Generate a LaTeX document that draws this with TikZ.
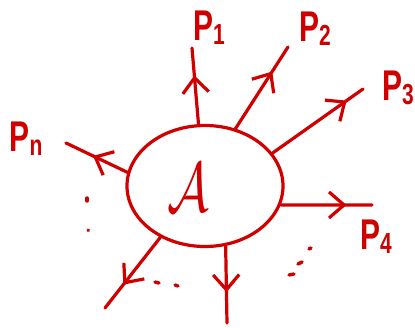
\documentclass[tikz,border=0pt]{standalone}
\usepackage{fontspec}
\usepackage{graphicx}
\setsansfont{Liberation Sans}
\usetikzlibrary{shapes.geometric,arrows.meta,decorations.markings}
\definecolor{ink}{RGB}{208,0,0}
\newcommand\plbl[1]{\sffamily\bfseries\scalebox{3}[4.3]{P}\raisebox{-4pt}{\scalebox{2.1}[2.9]{#1}}}
\tikzset{
  stroke/.style={draw=ink, line width=3.2pt, line cap=round},
  midarrow/.style={postaction={decorate}, decoration={markings,
     mark=at position #1 with {\arrow[ink, line width=3.2pt, line cap=round]{Straight Barb[length=15pt,width=26pt]}}}},
  plabel/.style={text=ink, inner sep=0pt},
  dotmark/.style={draw=ink, line width=3.4pt, line cap=round},
}
\begin{document}
\begin{tikzpicture}[x=1pt,y=-1pt]
\useasboundingbox (0,0) rectangle (415,327);
\node[ellipse, draw=ink, line width=3.2pt, minimum width=156pt, minimum height=121pt, inner sep=0pt] (A) at (205,186) {};
\node[text=ink, inner sep=0pt] (Aname) at (188,188) {\scalebox{5.2}[7]{$\mathcal{A}$}};
% free ends
\coordinate (e1) at (192,48);
\coordinate (e2) at (288,47);
\coordinate (e3) at (363,89);
\coordinate (e4) at (372,205);
\coordinate (en) at (66,143);
\coordinate (ebl) at (105,308);
\coordinate (eb) at (227,323);
% labels
\node[plabel] (P1) at (209,28) {\plbl{1}};
\node[plabel] (P2) at (315,29) {\plbl{2}};
\node[plabel] (P3) at (398,88) {\plbl{3}};
\node[plabel] (P4) at (376,237) {\plbl{4}};
\node[plabel] (Pn) at (26,139) {\plbl{n}};
% connectors
\draw[stroke, midarrow=0.64] (A.96) -- (e1);
\draw[stroke, midarrow=0.70] (A.62) -- (e2);
\draw[stroke, midarrow=0.82] (A.26) -- (e3);
\draw[stroke, midarrow=0.72] (A.-14) -- (e4);
\draw[stroke, midarrow=0.56] (A.170) -- (en);
\draw[stroke, midarrow=0.67] (A.229) -- (ebl);
\draw[stroke, midarrow=0.60] (A.289) -- (eb);
% dots
\draw[dotmark] (87,198) -- (87,201);
\draw[dotmark] (88,230) -- (88.5,230.5);
\draw[dotmark] (155,282) -- (159,283);
\draw[dotmark] (175,285) -- (178,286);
\draw[dotmark] (309,249) -- (311,248);
\draw[dotmark] (298,264) -- (302,262);
\draw[dotmark] (289,275) -- (294,274);
\end{tikzpicture}
\end{document}
